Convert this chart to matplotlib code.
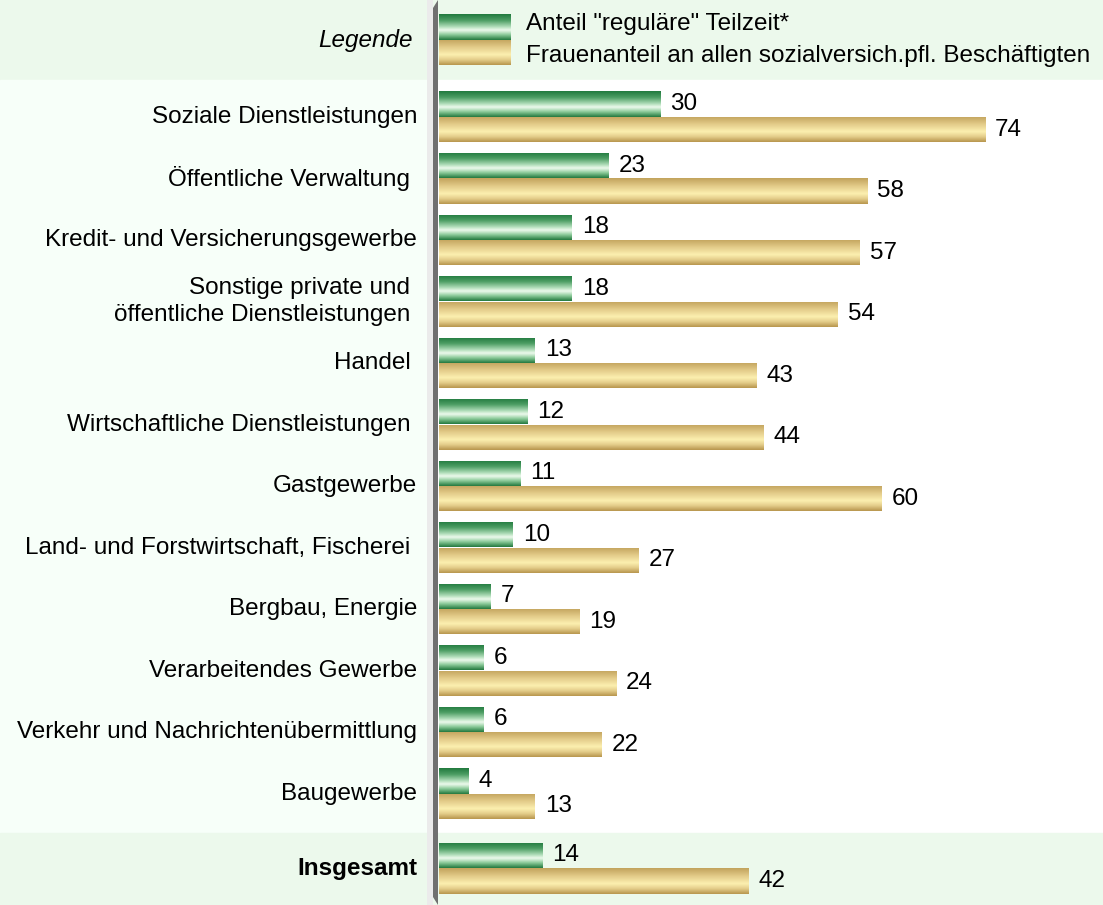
import numpy as np
import matplotlib.pyplot as plt
from matplotlib.colors import LinearSegmentedColormap

plt.rcParams['font.family'] = ['Liberation Sans', 'DejaVu Sans']

categories = [
    "Soziale Dienstleistungen",
    "Öffentliche Verwaltung ",
    "Kredit- und Versicherungsgewerbe",
    "Sonstige private und \nöffentliche Dienstleistungen ",
    "Handel ",
    "Wirtschaftliche Dienstleistungen ",
    "Gastgewerbe",
    "Land- und Forstwirtschaft, Fischerei ",
    "Bergbau, Energie",
    "Verarbeitendes Gewerbe",
    "Verkehr und Nachrichtenübermittlung",
    "Baugewerbe",
    "Insgesamt",
]
teilzeit = [30, 23, 18, 18, 13, 12, 11, 10, 7, 6, 6, 4, 14]
frauen = [74, 58, 57, 54, 43, 44, 60, 27, 19, 24, 22, 13, 42]
legend_labels = ['Anteil "reguläre" Teilzeit*',
                 'Frauenanteil an allen sozialversich.pfl. Beschäftigten']

W, H = 1103, 905
fig = plt.figure(figsize=(W / 100, H / 100), dpi=100)
ax = fig.add_axes([0, 0, 1, 1])
x0, scale = 438, 7.38  # pixel origin and pixels per percent
ax.set_xlim(-x0 / scale, (W - x0) / scale)
ax.set_ylim(H, 0)
ax.axis('off')

def px(x):
    return (x - x0) / scale

# row centres (pixel y of the border between the two bars)
centres = [117 + 61.5 * i for i in range(12)] + [868]
bh = 25.5

# backgrounds
ax.axhspan(0, 80, color='#ecf9ec', zorder=0)
ax.axhspan(80, 833, xmin=0, xmax=428 / W, color='#f7fff9', zorder=0)
ax.axhspan(80, 833, xmin=428 / W, xmax=1, color='#ffffff', zorder=0)
ax.axhspan(833, H, color='#ecf9ec', zorder=0)

# axis wall
ax.fill_between([px(427), px(433)], 0, H, color='#ebebeb', zorder=1, lw=0)
ax.fill([px(433), px(438), px(438), px(433)], [8, 0, H, H - 8],
        color='#707070', zorder=1, lw=0)

green = LinearSegmentedColormap.from_list(
    'g', [(0, '#217a3e'), (0.25, '#4f9f66'), (0.5, '#b5e0bd'),
          (0.62, '#eefaee'), (0.8, '#8ccb9a'), (1, '#23793f')])
gold = LinearSegmentedColormap.from_list(
    'y', [(0, '#c2a35c'), (0.3, '#e2ca88'), (0.6, '#fcf0b0'),
          (0.8, '#e4cd8a'), (1, '#b8964e')])
grad = np.linspace(0, 1, 64).reshape(-1, 1)

def gradient_bars(bars, cmap):
    for b in bars:
        x, y = b.get_x(), b.get_y()
        w, h = b.get_width(), b.get_height()
        b.set_facecolor('none')
        im = ax.imshow(grad, cmap=cmap, aspect='auto', interpolation='bicubic',
                       extent=(x, x + w, y + h, y), zorder=3)
        im.set_clip_path(b)

y_green = [c - bh / 2 for c in centres]
y_gold = [c + bh / 2 for c in centres]
b1 = ax.barh(y_green, teilzeit, height=bh, left=px(439), color='none',
             lw=0, zorder=3)
b2 = ax.barh(y_gold, frauen, height=bh, left=px(439), color='none',
             lw=0, zorder=3)
gradient_bars(b1, green)
gradient_bars(b2, gold)

fs = 17.5
for yg, yy, t, f in zip(y_green, y_gold, teilzeit, frauen):
    ax.text(px(439) + t + 10 / scale, yg, str(t), va='center', ha='left',
            fontsize=fs, zorder=4)
    ax.text(px(439) + f + 10 / scale, yy, str(f), va='center', ha='left',
            fontsize=fs, zorder=4)

for c, lab in zip(centres, categories):
    bold = lab == "Insgesamt"
    ax.text(px(417), c, lab, ha='right', va='center', fontsize=fs,
            fontweight='bold' if bold else 'normal',
            multialignment='right', linespacing=1.28, zorder=4)

# legend row
lc = 40
lb1 = ax.barh([lc - bh / 2], [(511 - 439) / scale], height=bh, left=px(439),
              color='none', lw=0, zorder=3)
lb2 = ax.barh([lc + bh / 2], [(511 - 439) / scale], height=bh, left=px(439),
              color='none', lw=0, zorder=3)
gradient_bars(lb1, green)
gradient_bars(lb2, gold)
ax.text(px(526), 24, legend_labels[0], va='center', ha='left', fontsize=fs)
ax.text(px(526), 56, legend_labels[1], va='center', ha='left', fontsize=fs)
ax.text(px(413), 41, 'Legende', va='center', ha='right', fontsize=fs,
        style='italic')

fig.savefig('out.png', dpi=100)
